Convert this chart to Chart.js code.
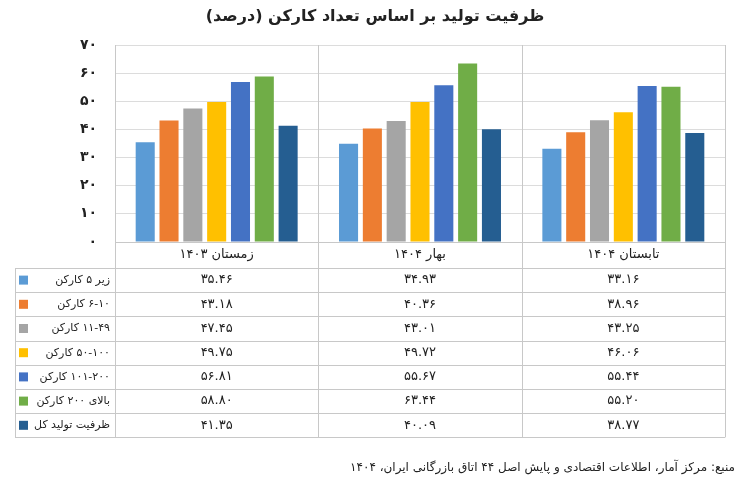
<!DOCTYPE html>
<html><head><meta charset="utf-8">
<script src="https://cdn.jsdelivr.net/npm/chart.js@4"></script>
<style>html,body{margin:0;padding:0;background:#fff}#c{display:block}</style>
</head><body>
<div style="width:750px;height:489px"><canvas id="c"></canvas></div>
<script>
const categories = ["زمستان ۱۴۰۳", "بهار ۱۴۰۴", "تابستان ۱۴۰۴"];
const seriesNames = ["زیر ۵ کارکن", "۶-۱۰ کارکن", "۱۱-۴۹ کارکن", "۵۰-۱۰۰ کارکن", "۱۰۱-۲۰۰ کارکن", "بالای ۲۰۰ کارکن", "ظرفیت تولید کل"];
const s1 = [35.46, 34.93, 33.16];
const s2 = [43.18, 40.36, 38.96];
const s3 = [47.45, 43.01, 43.25];
const s4 = [49.75, 49.72, 46.06];
const s5 = [56.81, 55.67, 55.44];
const s6 = [58.80, 63.44, 55.20];
const s7 = [41.35, 40.09, 38.77];
const seriesValues = [s1, s2, s3, s4, s5, s6, s7];
const colors = ["#5b9bd5", "#ed7d31", "#a5a5a5", "#ffc000", "#4472c4", "#70ad47", "#255e91"];
const titleText = "ظرفیت تولید بر اساس تعداد کارکن (درصد)";
const sourceText = "منبع: مرکز آمار، اطلاعات اقتصادی و پایش اصل ۴۴ اتاق بازرگانی ایران، ۱۴۰۴";

const fa = s => String(s).replace(/[0-9]/g, d => "۰۱۲۳۴۵۶۷۸۹"[d]);
const FONT = "'DejaVu Sans', sans-serif";

const tablePlugin = {
  id: 'tbl',
  afterDraw(chart) {
    const ctx = chart.ctx, a = chart.chartArea;
    const left = 15, top = a.bottom, headerH = 26, rowH = 24.2;
    const nR = seriesNames.length;
    const bottom = top + headerH + nR * rowH;
    const colW = (a.right - a.left) / categories.length;
    ctx.save();
    ctx.strokeStyle = '#c8c8c8'; ctx.lineWidth = 1;
    for (let i = 0; i <= categories.length; i++) {
      const x = Math.round(a.left + i * colW) + 0.5;
      ctx.beginPath(); ctx.moveTo(x, a.top); ctx.lineTo(x, bottom); ctx.stroke();
    }
    ctx.beginPath(); ctx.moveTo(left + 0.5, top + headerH); ctx.lineTo(left + 0.5, bottom); ctx.stroke();
    ctx.beginPath(); ctx.moveTo(a.left, top + 0.5); ctx.lineTo(a.right, top + 0.5); ctx.stroke();
    for (let r = 0; r <= nR; r++) {
      const y = Math.round(top + headerH + r * rowH) + 0.5;
      ctx.beginPath(); ctx.moveTo(left, y); ctx.lineTo(a.right, y); ctx.stroke();
    }
    ctx.fillStyle = '#222'; ctx.textBaseline = 'middle';
    ctx.direction = 'rtl';
    ctx.font = "13px " + FONT; ctx.textAlign = 'center';
    categories.forEach((c, i) => ctx.fillText(c, a.left + (i + 0.5) * colW, top + headerH / 2));
    seriesNames.forEach((n, r) => {
      const yc = top + headerH + (r + 0.5) * rowH;
      ctx.fillStyle = colors[r];
      ctx.fillRect(19, yc - 4.5, 9, 9);
      ctx.fillStyle = '#222'; ctx.textAlign = 'right'; ctx.font = "11px " + FONT;
      ctx.fillText(n, a.left - 5, yc);
      ctx.textAlign = 'center'; ctx.font = "13px " + FONT;
      seriesValues[r].forEach((v, i) => ctx.fillText(fa(v.toFixed(2)), a.left + (i + 0.5) * colW, yc));
    });
    ctx.font = "bold 16px " + FONT; ctx.textAlign = 'center';
    ctx.fillText(titleText, 375, 17);
    ctx.font = "12px " + FONT; ctx.textAlign = 'right';
    ctx.fillText(sourceText, 735, 468);
    ctx.restore();
  }
};

new Chart(document.getElementById('c'), {
  type: 'bar',
  data: {
    labels: categories,
    datasets: seriesNames.map((n, i) => ({ label: n, data: seriesValues[i], backgroundColor: colors[i],
      categoryPercentage: 0.82, barPercentage: 0.8 }))
  },
  options: {
    responsive: true, maintainAspectRatio: false, animation: false,
    layout: { padding: { top: 45, right: 25, bottom: 247, left: 0 } },
    plugins: { legend: { display: false }, title: { display: false }, tooltip: { enabled: false } },
    scales: {
      x: { display: false },
      y: {
        min: 0, max: 70,
        afterFit(s) { s.width = 115; },
        ticks: { stepSize: 10, padding: 18, color: '#222', font: { family: FONT, size: 14, weight: 'bold' },
          callback: v => fa(v) },
        grid: { color: '#dcdcdc', drawTicks: false },
        border: { display: false }
      }
    }
  },
  plugins: [tablePlugin]
});
</script>
</body></html>
